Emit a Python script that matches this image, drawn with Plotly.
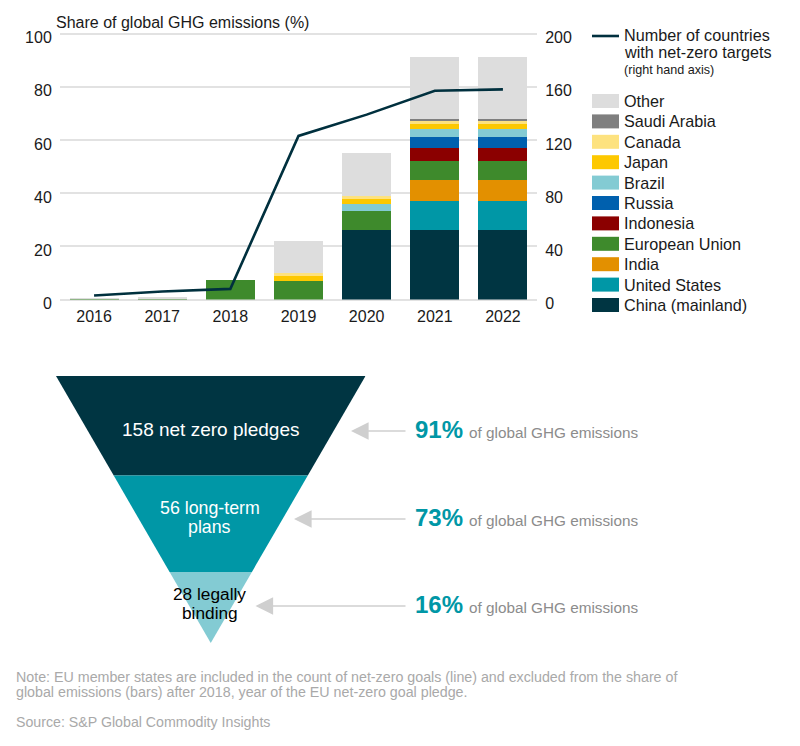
import plotly.graph_objects as go

years = ["2016", "2017", "2018", "2019", "2020", "2021", "2022"]
china = [0, 0, 0, 0, 26, 26, 26]
united_states = [0, 0, 0, 0, 0, 11, 11]
india = [0, 0, 0, 0, 0, 8, 8]
european_union = [0.4, 0.4, 7.2, 7, 7.2, 7, 7]
indonesia = [0, 0, 0, 0, 0, 5, 5]
russia = [0, 0, 0, 0, 0, 4, 4]
brazil = [0, 0, 0, 0, 2.8, 3, 3]
japan = [0, 0, 0, 1.9, 1.8, 2, 2]
canada = [0, 0, 0, 0.9, 1.2, 1, 1]
saudi_arabia = [0, 0, 0, 0, 0, 1, 1]
other = [0.1, 0.6, 0, 12.1, 15.9, 23, 23]
net_zero_countries = [3, 6, 8, 123, 139, 157, 158]

series_names = ["China (mainland)", "United States", "India", "European Union", "Indonesia",
                "Russia", "Brazil", "Japan", "Canada", "Saudi Arabia", "Other"]
series_values = [china, united_states, india, european_union, indonesia,
                 russia, brazil, japan, canada, saudi_arabia, other]
series_colors = ["#003542", "#0097a6", "#e39000", "#3e8a2c", "#8b0000",
                 "#0060ae", "#83cbd3", "#fdc800", "#fde27f", "#7f7f7f", "#dddddd"]
line_name = "Number of countries with net-zero targets"

funnel_labels = [["158 net zero pledges"], ["56 long-term", "plans"], ["28 legally", "binding"]]
funnel_shares = ["91%", "73%", "16%"]
funnel_depths = [1.0, 0.627, 0.266]
funnel_colors = ["#003542", "#0097a6", "#83cbd3"]

FONT = "Liberation Sans"
W, H = 800, 746
DARK = "#1a1a1a"


def px(x):
    return x / W


def py(y):
    return 1 - y / H


fig = go.Figure()
for name, vals, col in zip(series_names, series_values, series_colors):
    fig.add_trace(go.Bar(x=years, y=vals, name=name, marker=dict(color=col, line=dict(width=0)),
                         width=0.72, showlegend=False))
fig.add_trace(go.Scatter(x=years, y=net_zero_countries, name=line_name, mode="lines", yaxis="y2",
                         line=dict(color="#00303e", width=2.6), showlegend=False))

# funnel, in depth-from-apex units on its own hidden axes
ends = funnel_depths[1:] + [0.0]
for top, bot, col in zip(funnel_depths, ends, funnel_colors):
    fig.add_trace(go.Scatter(x=[-top, top, bot, -bot, -top], y=[top, top, bot, bot, top],
                             xaxis="x3", yaxis="y3", mode="lines", fill="toself", fillcolor=col,
                             line=dict(width=0, color=col), hoverinfo="skip", showlegend=False))

ann = []


def text(x, y, s, size=16, color=DARK, anchor="left", bold=False):
    ann.append(dict(xref="paper", yref="paper", x=px(x), y=py(y), text=f"<b>{s}</b>" if bold else s,
                    showarrow=False, xanchor=anchor, yanchor="middle",
                    font=dict(family=FONT, size=size, color=color), borderpad=0, borderwidth=0))


text(56, 22, "Share of global GHG emissions (%)", 16)

# legend
text(624, 35, "Number of countries", 16.2)
text(624, 52, "with net-zero targets", 16.2)
text(624, 70, "(right hand axis)", 12.6)
shapes = [dict(type="line", xref="paper", yref="paper", x0=px(592), x1=px(619), y0=py(36), y1=py(36),
               line=dict(color="#00303e", width=2.6))]
for i, (name, col) in enumerate(zip(series_names, series_colors)):
    yc = 305 - i * 20.4
    shapes.append(dict(type="rect", xref="paper", yref="paper", x0=px(592), x1=px(619),
                       y0=py(yc - 7), y1=py(yc + 7), fillcolor=col, line=dict(width=0)))
    text(624, yc, name, 16.2)

# funnel labels
text(210, 429, funnel_labels[0][0], 19, "white", "center")
text(209.5, 508, funnel_labels[1][0], 17.8, "white", "center")
text(209.5, 527, funnel_labels[1][1], 17.8, "white", "center")
text(209.5, 594, funnel_labels[2][0], 17.3, "black", "center")
text(209.5, 613, funnel_labels[2][1], 17.3, "black", "center")

# shares and arrows
rows = [(431, 351), (519, 294), (606, 255.5)]
for (yc, head), share in zip(rows, funnel_shares):
    text(415, yc - 2, share, 24, "#0097a6", bold=True)
    text(469, yc + 1, "of global GHG emissions", 15.3, "#8c8c8c")
    ann.append(dict(xref="paper", yref="paper", x=px(head), y=py(yc), ax=407 - head, ay=0,
                    axref="pixel", ayref="pixel", text="", showarrow=True, arrowhead=2, arrowsize=2.2,
                    arrowwidth=1.6, arrowcolor="#cfcfcf"))

# notes
NOTE = "#a9a9a9"
text(16, 677, "Note: EU member states are included in the count of net-zero goals (line) and excluded from the share of", 14.25, NOTE)
text(16, 692, "global emissions (bars) after 2018, year of the EU net-zero goal pledge.", 14.25, NOTE)
text(16, 722, "Source: S&P Global Commodity Insights", 14.2, NOTE)

tick_font = dict(family=FONT, size=16, color=DARK)
y_top = 30.84
fig.update_layout(
    width=W, height=H, margin=dict(l=0, r=0, t=0, b=0), autosize=False,
    paper_bgcolor="white", plot_bgcolor="white", barmode="stack", bargap=0.28,
    annotations=ann, shapes=shapes,
    xaxis=dict(domain=[px(60), px(537)], range=[-0.5, 6.5], type="category", showgrid=False,
               showline=False, zeroline=False, ticks="outside", ticklen=2.5, tickcolor="rgba(0,0,0,0)",
               tickfont=tick_font, anchor="y", automargin=False),
    yaxis=dict(domain=[py(299.5), py(y_top)], range=[0, 101], tickvals=[0, 20, 40, 60, 80, 100],
               gridcolor="#e2e2e2", gridwidth=1.5, zeroline=True, zerolinecolor="#e2e2e2", zerolinewidth=1.5,
               showline=False, ticks="outside", ticklen=4, tickcolor="rgba(0,0,0,0)", tickfont=tick_font,
               ticklabelshift=4, anchor="x", automargin=False),
    yaxis2=dict(domain=[py(299.5), py(y_top)], range=[0, 202], tickvals=[0, 40, 80, 120, 160, 200],
                overlaying="y", side="right", showgrid=False, zeroline=False, showline=False,
                ticks="outside", ticklen=4, tickcolor="rgba(0,0,0,0)", tickfont=tick_font,
                ticklabelshift=4, anchor="x", automargin=False),
    xaxis3=dict(domain=[px(56), px(365.5)], range=[-1, 1], visible=False, anchor="y3", fixedrange=True,
                automargin=False),
    yaxis3=dict(domain=[py(643), py(376)], range=[0, 1], visible=False, anchor="x3", fixedrange=True,
                automargin=False),
)

fig.write_html("out.html", post_script="document.body.style.margin='0';",
               config={"displayModeBar": False})
